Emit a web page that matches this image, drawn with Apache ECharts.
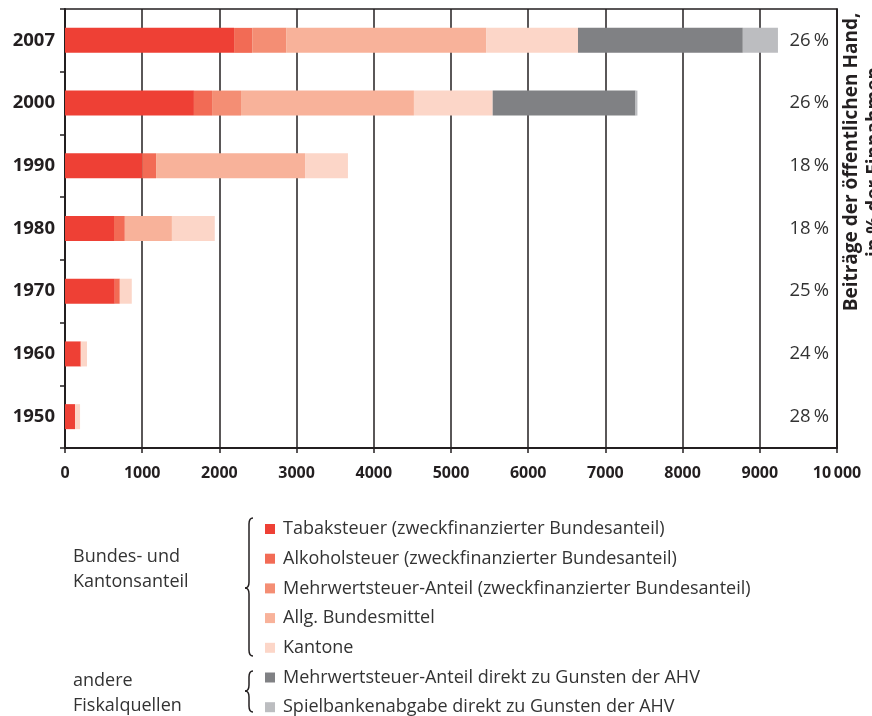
<!DOCTYPE html>
<html>
<head>
<meta charset="utf-8">
<script src="https://cdn.jsdelivr.net/npm/echarts@6/dist/echarts.min.js"></script>
<style>
  html, body { margin: 0; padding: 0; background: #fff; }
  #chart_bar { width: 872px; height: 716px; }
</style>
</head>
<body>
<div id="chart_bar"></div>
<script>
// Jahre, von oben nach unten
const years = ['2007', '2000', '1990', '1980', '1970', '1960', '1950']
// Beiträge der öffentlichen Hand in % der Einnahmen
const shares = ['26 %', '26 %', '18 %', '18 %', '25 %', '24 %', '28 %']
const xTicks = [0, 1000, 2000, 3000, 4000, 5000, 6000, 7000, 8000, 9000, 10000]

const tabak = [2190, 1670, 1000, 635, 645, 200, 130]
const alkohol = [235, 235, 180, 140, 65, 10, 0]
const mwstAnteil = [440, 375, 0, 0, 0, 0, 0]
const allgBund = [2590, 2240, 1930, 610, 0, 0, 0]
const kantone = [1190, 1020, 555, 555, 155, 75, 65]
const mwstDirekt = [2135, 1850, 0, 0, 0, 0, 0]
const spielbank = [455, 25, 0, 0, 0, 0, 0]

const names = [
  'Tabaksteuer (zweckfinanzierter Bundesanteil)',
  'Alkoholsteuer (zweckfinanzierter Bundesanteil)',
  'Mehrwertsteuer-Anteil (zweckfinanzierter Bundesanteil)',
  'Allg. Bundesmittel',
  'Kantone',
  'Mehrwertsteuer-Anteil direkt zu Gunsten der AHV',
  'Spielbankenabgabe direkt zu Gunsten der AHV'
]
const colors = ['#ee4035', '#f26b55', '#f48e74', '#f8b29a', '#fcd6c8', '#808184', '#bcbdc0']
const values = [tabak, alkohol, mwstAnteil, allgBund, kantone, mwstDirekt, spielbank]

const ink = '#231f20'
const font = '"Open Sans", "Noto Sans", sans-serif'

// geschweifte Klammer aus Kurven und Linien, Spitze nach links
function brace(x, top, bottom, mid) {
  const r = 6
  const xm = x + 4
  const style = { stroke: ink, lineWidth: 1.5, fill: null }
  const curve = (x1, y1, cx, cy, x2, y2) => ({
    type: 'bezierCurve', silent: true,
    shape: { x1: x1, y1: y1, cpx1: cx, cpy1: cy, x2: x2, y2: y2 },
    style: style
  })
  const line = (y1, y2) => ({
    type: 'line', silent: true,
    shape: { x1: xm, y1: y1, x2: xm, y2: y2 },
    style: style
  })
  return [
    curve(x + 8, top, xm, top, xm, top + r),
    line(top + r, mid - r),
    curve(xm, mid - r, xm, mid, x, mid),
    curve(x, mid, xm, mid, xm, mid + r),
    line(mid + r, bottom - r),
    curve(xm, bottom - r, xm, bottom, x + 8, bottom)
  ]
}

const chart = echarts.init(document.getElementById('chart_bar'))

chart.setOption({
  animation: false,
  color: colors,
  grid: {
    left: 65, right: 35, top: 9, bottom: 268,
    show: true, borderColor: ink, borderWidth: 1.5
  },
  legend: {
    orient: 'vertical',
    left: 260, top: 515, height: 240,
    itemWidth: 10, itemHeight: 10, itemGap: 11.7,
    icon: 'rect',
    selectedMode: false,
    data: names,
    textStyle: { fontFamily: font, fontSize: 18, lineHeight: 18, color: '#333', padding: [0, 0, 0, 3] }
  },
  xAxis: {
    type: 'value',
    min: 0, max: 10000, interval: 1000,
    axisLine: { show: true, lineStyle: { color: ink, width: 2 } },
    axisTick: { show: true, length: 5, lineStyle: { color: ink, width: 1.5 } },
    splitLine: { show: true, lineStyle: { color: ink, width: 1.5 } },
    axisLabel: {
      margin: 17,
      fontFamily: font, fontSize: 16, fontWeight: 'bold', color: ink,
      formatter: v => xTicks.indexOf(v) < 0 ? '' : (v === 10000 ? '10\u2009000' : String(v))
    }
  },
  yAxis: [
    {
      type: 'category',
      data: years,
      inverse: true,
      axisLine: { show: true, lineStyle: { color: ink, width: 2 } },
      axisTick: { show: true, length: 5, lineStyle: { color: ink, width: 1.5 } },
      axisLabel: {
        margin: 10,
        fontFamily: font, fontSize: 18.5, fontWeight: 'bold', color: ink
      }
    },
    {
      type: 'category',
      data: years,
      inverse: true,
      position: 'right',
      axisLine: { show: true, lineStyle: { color: ink, width: 1.5 } },
      axisTick: { show: false },
      axisLabel: {
        inside: true,
        margin: 8,
        fontFamily: font, fontSize: 18.5, color: '#333',
        formatter: (v, i) => shares[i].replace(' ', '\u2009')
      }
    }
  ],
  series: names.map((n, i) => ({
    name: n,
    type: 'bar',
    stack: 'total',
    barWidth: 25,
    data: values[i],
    itemStyle: { color: colors[i] }
  })),
  graphic: [
    {
      type: 'text',
      x: 863, y: 162,
      rotation: Math.PI / 2,
      style: {
        text: 'Beiträge der öffentlichen Hand,\nin % der Einnahmen',
        fontFamily: font, fontSize: 19, fontWeight: 'bold', fill: ink,
        align: 'center', verticalAlign: 'middle', lineHeight: 23
      }
    },
    {
      type: 'text',
      x: 73, y: 544,
      style: {
        text: 'Bundes- und\nKantonsanteil',
        fontFamily: font, fontSize: 18, fill: '#333', lineHeight: 25
      }
    },
    {
      type: 'text',
      x: 73, y: 668,
      style: {
        text: 'andere\nFiskalquellen',
        fontFamily: font, fontSize: 18, fill: '#333', lineHeight: 25
      }
    }
  ].concat(brace(245, 518, 656, 588), brace(245, 671, 712, 691))
})
</script>
</body>
</html>
